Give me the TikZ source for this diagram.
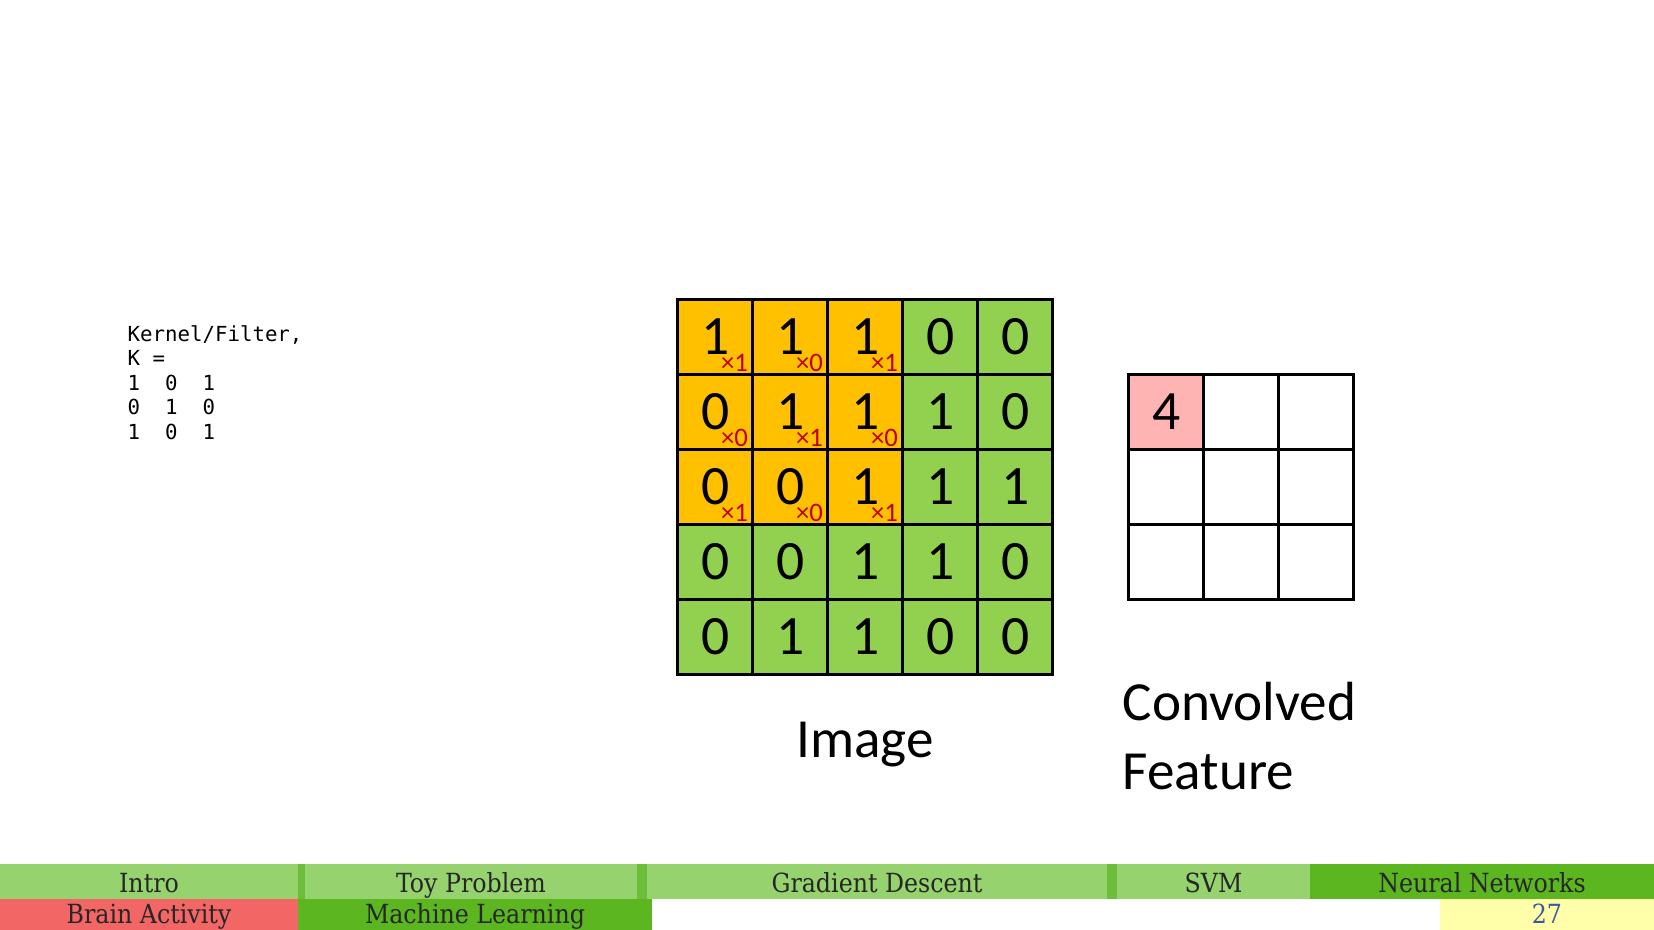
\documentclass[tikz,border=0pt]{standalone}
\usepackage{fontspec}
\setmainfont{Carlito}
\newfontfamily\footfont{DejaVu Serif Condensed}
\newfontfamily\kernfont{DejaVu Sans Mono}
\usetikzlibrary{matrix,positioning}
\definecolor{gold}{RGB}{255,192,0}
\definecolor{grass}{RGB}{146,208,80}
\definecolor{rose}{RGB}{255,180,180}
\definecolor{wred}{RGB}{192,0,0}
\definecolor{lgreen}{RGB}{150,210,110}
\definecolor{sepgreen}{RGB}{108,190,58}
\definecolor{dgreen}{RGB}{92,182,32}
\definecolor{bred}{RGB}{242,102,102}
\definecolor{lyellow}{RGB}{255,255,170}
\definecolor{pageblue}{RGB}{62,90,150}
\tikzset{
    cell/.style={
        rectangle, draw=black, line width=1pt,
        minimum size=7.5mm, inner sep=0pt, outer sep=0pt,
        text height=9.8pt, text depth=0pt,
        font=\fontsize{15.8}{18}\selectfont
    },
    grid/.style={
        matrix of nodes, nodes in empty cells,
        column sep=-1pt, row sep=-1pt, inner sep=0pt,
        anchor=north west, xshift=-0.5pt, yshift=0.5pt
    },
    weight/.style={
        anchor=base east, inner sep=0pt,
        text=wred, font=\fontsize{7.6}{8}\selectfont
    },
    lbl/.style={
        inner sep=0pt,
        font=\fontsize{15.7}{19.8}\selectfont
    },
    kernel/.style={
        inner sep=0pt, align=left,
        font=\kernfont\fontsize{5.9}{6.95}\selectfont
    },
    tab/.style={
        anchor=base, inner sep=0pt, text=black!85,
        font=\footfont\fontsize{7.5}{9}\selectfont
    }
}
\begin{document}
\begin{tikzpicture}[x=0.1mm, y=-0.1mm]
    \useasboundingbox (0,0) rectangle (1654,930);
    \node[kernel, anchor=north west] (kern) at (127,325)
        {Kernel/Filter,\\K =\\1~~0~~1\\0~~1~~0\\1~~0~~1};
    % input image
    \matrix (img) [grid, nodes={cell, fill=grass}] at (677,299) {
        |[fill=gold]| 1 & |[fill=gold]| 1 & |[fill=gold]| 1 & 0 & 0 \\
        |[fill=gold]| 0 & |[fill=gold]| 1 & |[fill=gold]| 1 & 1 & 0 \\
        |[fill=gold]| 0 & |[fill=gold]| 0 & |[fill=gold]| 1 & 1 & 1 \\
        0 & 0 & 1 & 1 & 0 \\
        0 & 1 & 1 & 0 & 0 \\
    };
    \foreach \r/\c/\w in {1/1/1,1/2/0,1/3/1,2/1/0,2/2/1,2/3/0,3/1/1,3/2/0,3/3/1}
        \node[weight] (w-\r-\c) at ([xshift=-0.4mm,yshift=0.35mm]img-\r-\c.south east) {×\w};
    % convolved feature
    \matrix (conv) [grid, nodes={cell, fill=white}] at (1128,374) {
        |[fill=rose]| 4 & & \\
        & & \\
        & & \\
    };
    \node[lbl, anchor=base] (imglbl) at (865,758) {Image};
    \node[lbl, align=left, anchor=north west] (convlbl) at (1122,681) {Convolved\\Feature};
    % footline
    \fill[sepgreen] (0,864) rectangle (1310,899);
    \foreach \a/\b/\t [count=\i] in {0/298/Intro,305/637/Toy Problem,647/1107/Gradient Descent,1117/1310/SVM}{
        \fill[lgreen] (\a,864) rectangle (\b,899);
        \node[tab] (sec-\i) at ({(\a+\b)/2},893) {\t};
    }
    \fill[dgreen] (1310,864) rectangle (1654,899);
    \node[tab] (sec-5) at (1482,893) {Neural Networks};
    \fill[bred] (0,899) rectangle (298,930);
    \node[tab] (sub-1) at (149,924) {Brain Activity};
    \fill[dgreen] (298,899) rectangle (652,930);
    \node[tab] (sub-2) at (475,924) {Machine Learning};
    \fill[lyellow] (1440,899) rectangle (1654,930);
    \node[tab, text=pageblue] (page) at (1547,924) {27};
\end{tikzpicture}
\end{document}
